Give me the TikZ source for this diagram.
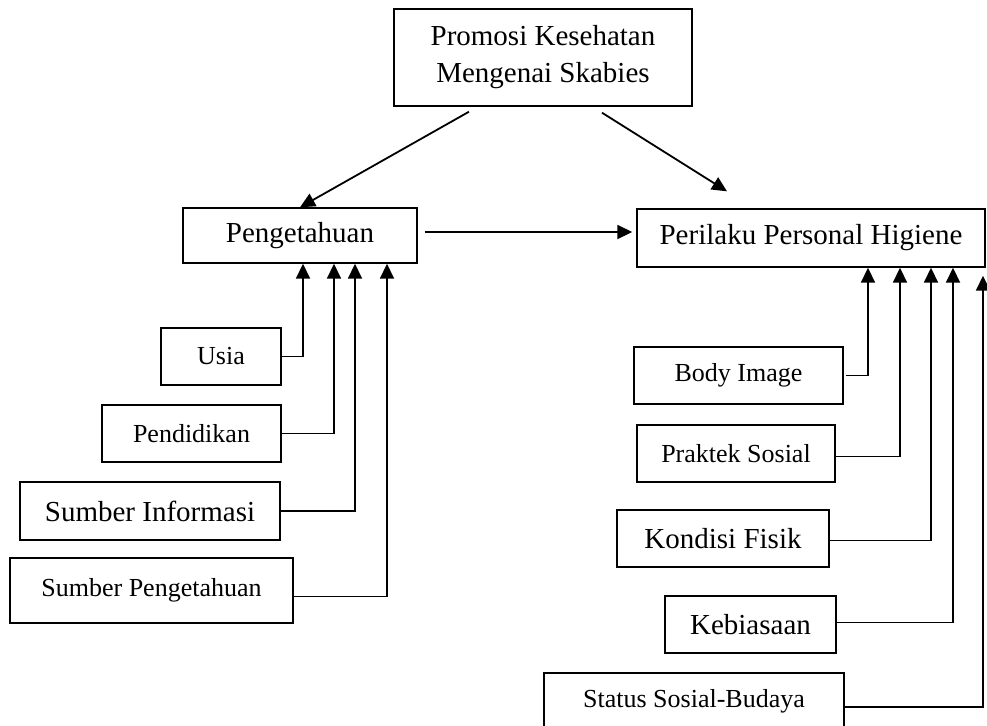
\documentclass[tikz,border=0pt]{standalone}
\usepackage{fontspec}
\setmainfont{Liberation Serif}
\usetikzlibrary{arrows.meta,positioning}

\tikzset{
  blok/.style={draw, line width=0.7pt, inner sep=0pt, align=center},
  besar/.style={font=\fontsize{14.5}{18.5}\selectfont},
  kecil/.style={font=\fontsize{13}{16}\selectfont},
  panah/.style={line width=0.9pt, -{Triangle[length=7.5pt,width=7pt]}},
}

\begin{document}
\begin{tikzpicture}[x=0.5pt, y=-0.5pt]
  \useasboundingbox (0,0) rectangle (987,725);
  % kotak utama
  \node[blok, besar, minimum width=149pt, minimum height=48.5pt] (promosi) at (543,57.5) {Promosi Kesehatan\\Mengenai Skabies};
  \node[blok, besar, minimum width=117pt, minimum height=27.5pt] (peng) at (300,235.5) {Pengetahuan};
  \node[blok, besar, minimum width=174pt, minimum height=29pt] (peri) at (811,238) {Perilaku Personal Higiene};

  % faktor pengetahuan
  \node[blok, kecil, minimum width=60pt, minimum height=28.5pt] (usia) at (221,356.5) {Usia};
  \node[blok, kecil, minimum width=89.5pt, minimum height=28.5pt] (didik) at (191.5,433.5) {Pendidikan};
  \node[blok, besar, minimum width=130pt, minimum height=29pt] (info) at (150,511) {Sumber Informasi};
  \node[blok, kecil, minimum width=141.5pt, minimum height=32.5pt] (sumber) at (151.5,590.5) {Sumber Pengetahuan};

  % faktor perilaku
  \node[blok, kecil, minimum width=104.5pt, minimum height=28.5pt] (body) at (738.5,375.5) {Body Image};
  \node[blok, kecil, minimum width=99pt, minimum height=28.5pt] (praktek) at (736,453.5) {Praktek Sosial};
  \node[blok, besar, minimum width=106pt, minimum height=28.5pt] (fisik) at (723,538.5) {Kondisi Fisik};
  \node[blok, besar, minimum width=85.5pt, minimum height=28.5pt] (biasa) at (750.5,624.5) {Kebiasaan};
  \node[blok, kecil, minimum width=150pt, minimum height=28.5pt] (budaya) at (694,701.5) {Status Sosial-Budaya};

  % panah atas
  \draw[panah] ([xshift=-37pt,yshift=-2.5pt]promosi.south) -- (peng.north);
  \draw[panah] ([xshift=29.5pt,yshift=-3pt]promosi.south) -- ([xshift=-42pt,yshift=8.5pt]peri.north);
  \draw[panah, shorten <=3.5pt, shorten >=2pt] ([yshift=1.75pt]peng.east) -- ([yshift=1.75pt]peng.east -| peri.west);

  % panah ke pengetahuan
  \draw[panah] (usia.east) -| ([xshift=1.5pt]peng.south);
  \draw[panah] (didik.east) -| ([xshift=17pt]peng.south);
  \draw[panah] (info.east) -| ([xshift=27.5pt]peng.south);
  \draw[panah] ([yshift=-3pt]sumber.east) -| ([xshift=43.5pt]peng.south);

  % panah ke perilaku
  \draw[panah, shorten <=1pt] (body.east) -| ([xshift=28.5pt]peri.south);
  \draw[panah] ([yshift=-1.5pt]praktek.east) -| ([xshift=44.5pt]peri.south);
  \draw[panah] ([yshift=-1pt]fisik.east) -| ([xshift=60pt]peri.south);
  \draw[panah] ([yshift=1pt]biasa.east) -| ([xshift=71pt]peri.south);
  \draw[panah, shorten >=4pt] ([yshift=-2.75pt]budaya.east) -| ([xshift=86pt]peri.south);
\end{tikzpicture}
\end{document}
